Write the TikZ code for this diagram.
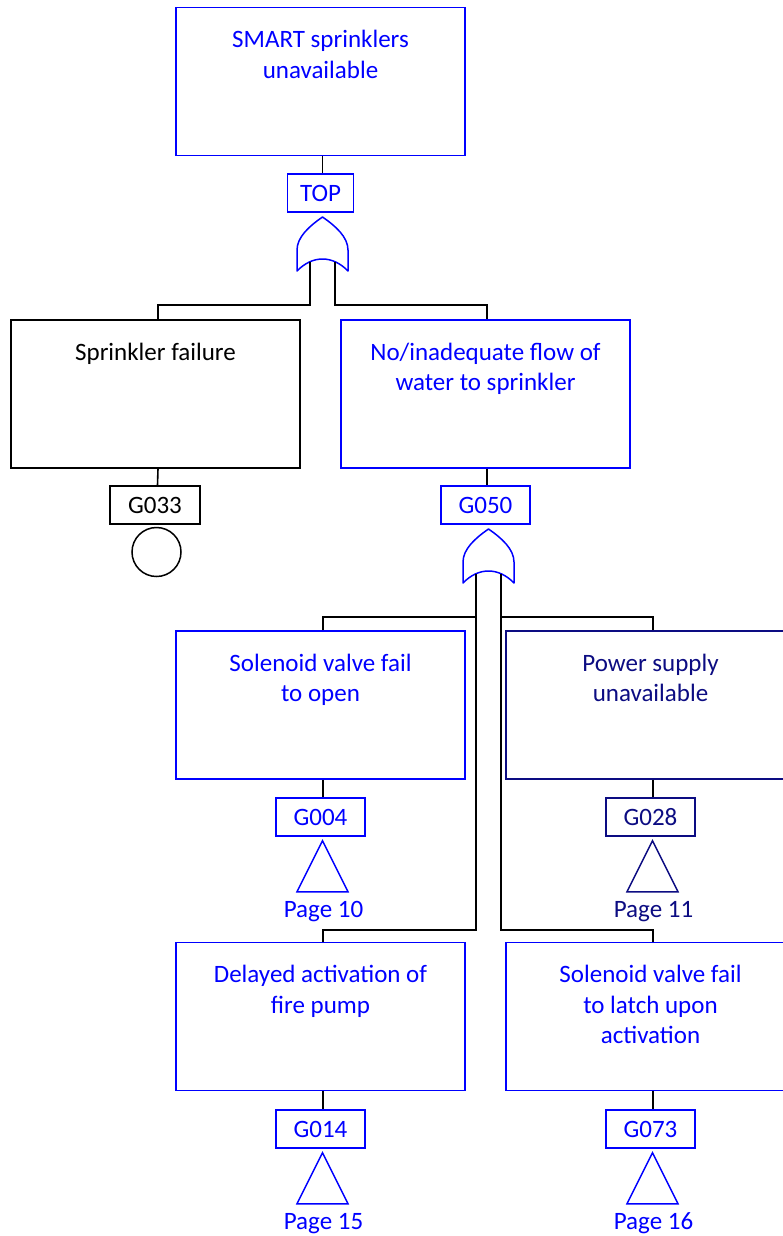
\documentclass[tikz,border=0pt]{standalone}
\usepackage{fontspec}
\setmainfont{Carlito}
\usetikzlibrary{calc}
\definecolor{ftblue}{RGB}{0,0,255}
\definecolor{ftnavy}{RGB}{12,12,130}
\newcommand\capstrut{\rule{0pt}{20pt}}
\tikzset{
  orgate/.pic={
    \draw[line width=1.5pt, line join=round]
      (-25.5,54) -- (-25.5,33)
      .. controls (-25.5,20) and (-13,9) .. (0,0)
      .. controls (13,9) and (25.5,20) .. (25.5,33)
      -- (25.5,54)
      .. controls (10,38) and (-10,38) .. (-25.5,54) -- cycle;
  },
  xfer/.pic={
    \draw[line width=1.5pt, line join=miter]
      (0,0) -- (25.5,51) -- (-25.5,51) -- cycle;
  }
}
\begin{document}
\begin{tikzpicture}[x=1pt, y=-1pt,
  every node/.style={font=\fontsize{25}{30.5}\selectfont},
  box/.style={draw, line width=1.5pt, minimum width=289pt, minimum height=148pt, inner sep=0pt},
  tag/.style={draw, line width=1.5pt, minimum width=89pt, minimum height=38pt,
              inner sep=0pt, text height=16pt, text depth=0pt},
  caption/.style={align=center, inner sep=0pt, anchor=north},
  pagenote/.style={inner sep=0pt, anchor=base},
  wire/.style={line width=1.6pt, black}]

\fill[white] (0,0) rectangle (783,1236);
\useasboundingbox (0,0) rectangle (783,1236);

% ---- top event ----
\node[box, ftblue] (topbox) at (320.5,81.5) {};
\node[caption, ftblue] (topcap) at ($(topbox.north)+(0,21)$) {\capstrut SMART sprinklers\\unavailable};
\node[tag, ftblue, minimum width=66pt] (tTOP) at (320.5,193) {TOP};
\coordinate (g1) at (322.5,217);
\pic[ftblue] at (g1) {orgate};
\coordinate (g1L) at ($(g1)+(-12.5,45)$);
\coordinate (g1R) at ($(g1)+(12.5,45)$);

% ---- second level ----
\node[box, black] (sprinkler) at (155.5,394) {};
\node[caption, black] (sprcap) at ($(sprinkler.north)+(0,21)$) {\capstrut Sprinkler failure};
\node[tag, black, minimum width=90pt] (t033) at (155,505) {G033};
\node[draw, circle, line width=1.5pt, minimum size=49pt, inner sep=0pt] (basic) at (156.5,552) {};

\node[box, ftblue] (flow) at (485.5,394) {};
\node[caption, ftblue] (flowcap) at ($(flow.north)+(0,21)$) {\capstrut No/inadequate flow of\\water to sprinkler};
\node[tag, ftblue] (t050) at (485.5,505) {G050};
\coordinate (g2) at (488.5,529);
\pic[ftblue] at (g2) {orgate};
\coordinate (g2L) at ($(g2)+(-12.5,45)$);
\coordinate (g2R) at ($(g2)+(12.5,45)$);

% ---- third level ----
\node[box, ftblue] (solopen) at (320.5,705) {};
\node[caption, ftblue] (solcap) at ($(solopen.north)+(0,21)$) {\capstrut Solenoid valve fail\\to open};
\node[tag, ftblue] (t004) at (320.5,817) {G004};
\coordinate (x004) at ($(t004.south)+(2,4)$);
\pic[ftblue] at (x004) {xfer};
\node[pagenote, ftblue] (p10) at ($(t004.south)+(3,81)$) {Page 10};

\node[box, ftnavy] (power) at (650.5,705) {};
\node[caption, ftnavy] (powcap) at ($(power.north)+(0,21)$) {\capstrut Power supply\\unavailable};
\node[tag, ftnavy] (t028) at (650.5,817) {G028};
\coordinate (x028) at ($(t028.south)+(2,4)$);
\pic[ftnavy] at (x028) {xfer};
\node[pagenote, ftnavy] (p11) at ($(t028.south)+(3,81)$) {Page 11};

% ---- fourth level ----
\node[box, ftblue] (delayed) at (320.5,1016.5) {};
\node[caption, ftblue] (delcap) at ($(delayed.north)+(0,21)$) {\capstrut Delayed activation of\\fire pump};
\node[tag, ftblue] (t014) at (320.5,1129) {G014};
\coordinate (x014) at ($(t014.south)+(2,4)$);
\pic[ftblue] at (x014) {xfer};
\node[pagenote, ftblue] (p15) at ($(t014.south)+(3,81)$) {Page 15};

\node[box, ftblue] (latch) at (650.5,1016.5) {};
\node[caption, ftblue] (latcap) at ($(latch.north)+(0,21)$) {\capstrut Solenoid valve fail\\to latch upon\\activation};
\node[tag, ftblue] (t073) at (650.5,1129) {G073};
\coordinate (x073) at ($(t073.south)+(2,4)$);
\pic[ftblue] at (x073) {xfer};
\node[pagenote, ftblue] (p16) at ($(t073.south)+(3,81)$) {Page 16};

% ---- connectors (they meet each box slightly right of its centre) ----
\draw[wire] ([xshift=2pt]topbox.south) -- ([xshift=2pt]tTOP.north);
\draw[wire] (g1L) |- ($(sprinkler.north)+(2.5,-14)$) -- ([xshift=2.5pt]sprinkler.north);
\draw[wire] (g1R) |- ($(flow.north)+(1.5,-14)$) -- ([xshift=1.5pt]flow.north);
\draw[wire] ([xshift=2.5pt]sprinkler.south) -- ([xshift=2.5pt]t033.north);
\draw[wire] ([xshift=1.5pt]flow.south) -- ([xshift=1.5pt]t050.north);

\draw[wire] (g2L) |- ($(delayed.north)+(2.5,-12)$) -- ([xshift=2.5pt]delayed.north);
\draw[wire] (g2R) |- ($(latch.north)+(2.5,-12)$) -- ([xshift=2.5pt]latch.north);
\draw[wire] ([xshift=2.5pt]solopen.north) -- ++(0,-13) -| (g2L);
\draw[wire] ([xshift=2.5pt]power.north) -- ++(0,-13) -| (g2R);

\draw[wire] ([xshift=2.5pt]solopen.south) -- ([xshift=2.5pt]t004.north);
\draw[wire] ([xshift=2.5pt]power.south) -- ([xshift=2.5pt]t028.north);
\draw[wire] ([xshift=2.5pt]delayed.south) -- ([xshift=2.5pt]t014.north);
\draw[wire] ([xshift=2.5pt]latch.south) -- ([xshift=2.5pt]t073.north);
\end{tikzpicture}
\end{document}
